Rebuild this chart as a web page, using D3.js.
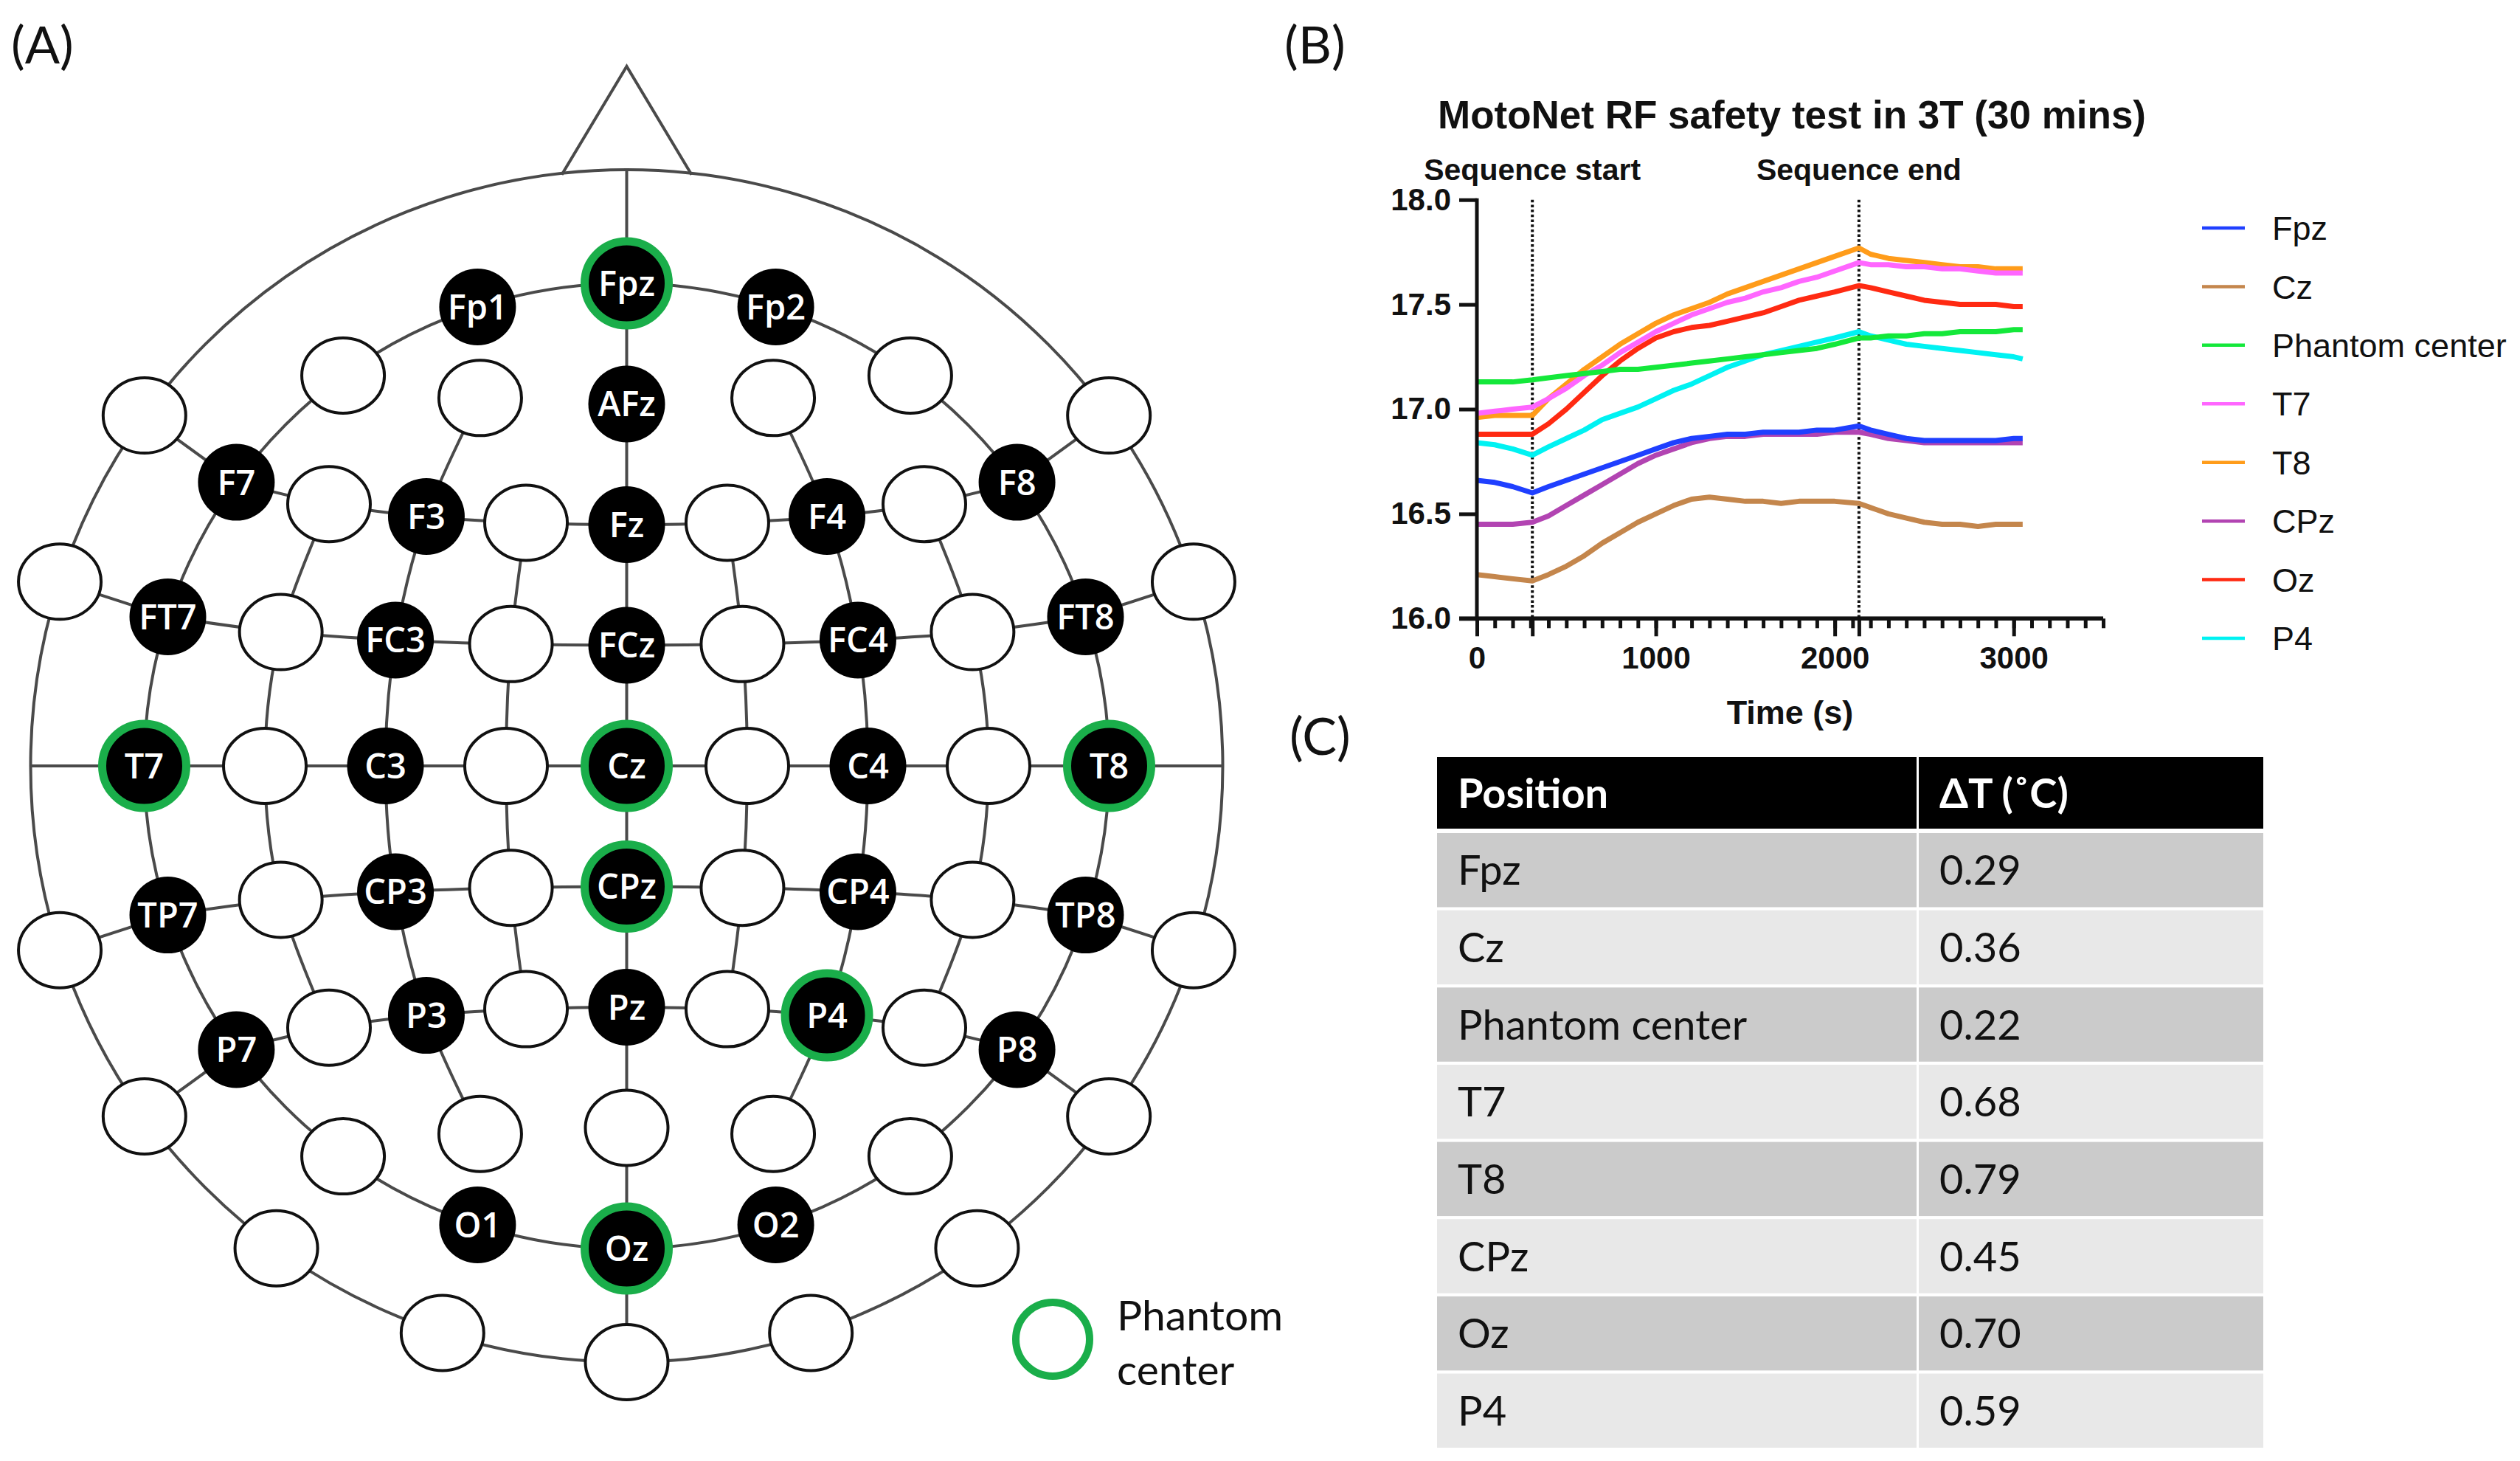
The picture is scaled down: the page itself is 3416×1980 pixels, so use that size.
<!DOCTYPE html>
<html><head><meta charset="utf-8">
<script src="https://cdn.jsdelivr.net/npm/d3@7"></script>
<style>html,body{margin:0;padding:0;background:#fff;} svg{display:block}</style>
</head><body>
<svg id="fig" width="3416" height="1980"></svg>
<script>
// ================= DATA =================
// (A) 10-10 electrode layout, expressed in angles (not pixels)
const gridRows = ['AF','F','FC','C','CP','P','PO'];
const gridRowBeta = [67.5, 45, 22.5, 0, -22.5, -45, -67.5];   // midline latitude (deg, + = frontal)
const gridElectrodes = [ // [name, row, fraction along row (neg = left)]
  ['AF7','AF',-1],['AF3','AF',-0.5],['AFz','AF',0],['AF4','AF',0.5],['AF8','AF',1],
  ['F7','F',-1],['F5','F',-0.75],['F3','F',-0.5],['F1','F',-0.25],['Fz','F',0],['F2','F',0.25],['F4','F',0.5],['F6','F',0.75],['F8','F',1],
  ['FT7','FC',-1],['FC5','FC',-0.75],['FC3','FC',-0.5],['FC1','FC',-0.25],['FCz','FC',0],['FC2','FC',0.25],['FC4','FC',0.5],['FC6','FC',0.75],['FT8','FC',1],
  ['T7','C',-1],['C5','C',-0.75],['C3','C',-0.5],['C1','C',-0.25],['Cz','C',0],['C2','C',0.25],['C4','C',0.5],['C6','C',0.75],['T8','C',1],
  ['TP7','CP',-1],['CP5','CP',-0.75],['CP3','CP',-0.5],['CP1','CP',-0.25],['CPz','CP',0],['CP2','CP',0.25],['CP4','CP',0.5],['CP6','CP',0.75],['TP8','CP',1],
  ['P7','P',-1],['P5','P',-0.75],['P3','P',-0.5],['P1','P',-0.25],['Pz','P',0],['P2','P',0.25],['P4','P',0.5],['P6','P',0.75],['P8','P',1],
  ['PO7','PO',-1],['PO3','PO',-0.5],['POz','PO',0],['PO4','PO',0.5],['PO8','PO',1]
];
const polarElectrodes = [ // [name, polar angle from vertex (deg), azimuth from nasion (deg)]
  ['Fp1',90,-18],['Fpz',90,0],['Fp2',90,18],['O1',90,-162],['Oz',90,180],['O2',90,162],
  ['F9',112.5,-54],['FT9',112.5,-72],['TP9',112.5,-108],['P9',112.5,-126],['PO9',112.5,-144],['O9',112.5,-162],['Iz',112.5,180],
  ['O10',112.5,162],['PO10',112.5,144],['P10',112.5,126],['TP10',112.5,108],['FT10',112.5,72],['F10',112.5,54]
];
const labelledElectrodes = ['Fp1','Fpz','Fp2','AFz','F7','F3','Fz','F4','F8','FT7','FC3','FCz','FC4','FT8',
  'T7','C3','Cz','C4','T8','TP7','CP3','CPz','CP4','TP8','P7','P3','Pz','P4','P8','O1','Oz','O2'];
const phantomSites = ['Fpz','T7','Cz','T8','CPz','P4','Oz'];
const rowLineRows = ['F','FC','CP','P'];
const columnLines = [
  ['F5','FC5','C5','CP5','P5'], ['AF3','F3','FC3','C3','CP3','P3','PO3'], ['F1','FC1','C1','CP1','P1'],
  ['F2','FC2','C2','CP2','P2'], ['AF4','F4','FC4','C4','CP4','P4','PO4'], ['F6','FC6','C6','CP6','P6']
];
const spokes = [['F7','F9'],['FT7','FT9'],['TP7','TP9'],['P7','P9'],['F8','F10'],['FT8','FT10'],['TP8','TP10'],['P8','P10']];
const ringAngles = [90, 112.5];
const legendALabel = ['Phantom', 'center'];

// (B) temperature traces
const timeS = [0,100,200,310,400,500,600,700,800,900,1000,1100,1200,1300,1400,1500,1600,1700,1800,1900,2000,2135,2200,2300,2400,2500,2600,2700,2800,2900,3000,3050];
const tFpz     = [16.66,16.65,16.63,16.60,16.63,16.66,16.69,16.72,16.75,16.78,16.81,16.84,16.86,16.87,16.88,16.88,16.89,16.89,16.89,16.90,16.90,16.92,16.90,16.88,16.86,16.85,16.85,16.85,16.85,16.85,16.86,16.86];
const tCz      = [16.21,16.20,16.19,16.18,16.21,16.25,16.30,16.36,16.41,16.46,16.50,16.54,16.57,16.58,16.57,16.56,16.56,16.55,16.56,16.56,16.56,16.55,16.53,16.50,16.48,16.46,16.45,16.45,16.44,16.45,16.45,16.45];
const tPhantom = [17.13,17.13,17.13,17.14,17.15,17.16,17.17,17.18,17.19,17.19,17.20,17.21,17.22,17.23,17.24,17.25,17.26,17.27,17.28,17.29,17.31,17.34,17.34,17.35,17.35,17.36,17.36,17.37,17.37,17.37,17.38,17.38];
const tT7      = [16.98,16.99,17.00,17.01,17.05,17.10,17.16,17.21,17.27,17.32,17.37,17.41,17.45,17.48,17.51,17.53,17.56,17.58,17.61,17.63,17.66,17.70,17.69,17.69,17.68,17.68,17.67,17.67,17.66,17.65,17.65,17.65];
const tT8      = [16.96,16.97,16.97,16.97,17.05,17.12,17.19,17.25,17.31,17.36,17.41,17.45,17.48,17.51,17.55,17.58,17.61,17.64,17.67,17.70,17.73,17.77,17.74,17.72,17.71,17.70,17.69,17.68,17.68,17.67,17.67,17.67];
const tCPz     = [16.45,16.45,16.45,16.46,16.49,16.54,16.59,16.64,16.69,16.74,16.78,16.81,16.84,16.86,16.87,16.87,16.88,16.88,16.88,16.88,16.89,16.89,16.88,16.86,16.85,16.84,16.84,16.84,16.84,16.84,16.84,16.84];
const tOz      = [16.88,16.88,16.88,16.88,16.93,17.00,17.08,17.16,17.23,17.29,17.34,17.37,17.39,17.40,17.42,17.44,17.46,17.49,17.52,17.54,17.56,17.59,17.58,17.56,17.54,17.52,17.51,17.50,17.50,17.50,17.49,17.49];
const tP4      = [16.84,16.83,16.81,16.78,16.82,16.86,16.90,16.95,16.98,17.01,17.05,17.09,17.12,17.16,17.20,17.23,17.26,17.28,17.30,17.32,17.34,17.37,17.35,17.33,17.31,17.30,17.29,17.28,17.27,17.26,17.25,17.24];
const seriesNames  = ['Fpz','Cz','Phantom center','T7','T8','CPz','Oz','P4'];
const seriesValues = [tFpz, tCz, tPhantom, tT7, tT8, tCPz, tOz, tP4];
const seriesColors = ['#1f3fff','#c4864c','#14e83a','#ff66ff','#ff9c1a','#b244b2','#ff2a12','#00f2f2'];
const yTicks = [16.0, 16.5, 17.0, 17.5, 18.0];
const xMajorTicks = [0, 1000, 2000, 3000];
const xMinorStep = 100;
const xMax = 3500;
const sequenceTimes = [310, 2135];
const sequenceLabels = ['Sequence start', 'Sequence end'];
const chartTitle = 'MotoNet RF safety test in 3T (30 mins)';
const xAxisTitle = 'Time (s)';

// (C) table
const tableHeader = ['Position', 'ΔT (˚C)'];
const tablePositions = ['Fpz','Cz','Phantom center','T7','T8','CPz','Oz','P4'];
const tableDeltaT = ['0.29','0.36','0.22','0.68','0.79','0.45','0.70','0.59'];
const panelLabels = ['(A)','(B)','(C)'];

// ================= DRAW =================
const svg = d3.select('#fig');

// ---- panel labels
const panelPos = [[15,61],[1741,61],[1748,998]];
svg.selectAll('text.panel').data(panelLabels).join('text')
  .attr('class','panel').attr('x',(d,i)=>panelPos[i][0]).attr('y',(d,i)=>panelPos[i][1])
  .attr('dy','0.36em').style('font-family','Lato, "Open Sans", sans-serif').style('font-size','70px')
  .attr('fill','#111').text(d=>d);

// ---- (A) head map
const head = svg.append('g');
const cx = 849.5, cy = 1038;
const rScale = d3.scaleLinear().domain([0, 90, 112.5]).range([0, 654, 808]);
const rad = Math.PI/180;
function project(theta, az) {
  const r = rScale(theta);
  return [cx + r*Math.sin(az*rad), cy - r*Math.cos(az*rad)];
}
function gridPos(beta, f) {
  const b = beta*rad, alpha = (90 - 0.8*beta)*rad;
  const M = [0, Math.sin(b), Math.cos(b)];
  const L = [-Math.sin(alpha), Math.cos(alpha), 0];
  const k = (Math.cos(alpha) - Math.sin(b)) / Math.cos(b);
  const nl = Math.hypot(1, k);
  const n = [0, 1/nl, k/nl];
  const d = Math.cos(alpha)/nl;
  const c = [0, d*n[1], d*n[2]];
  const rho = Math.sqrt(1 - d*d);
  const u = [0, (M[1]-c[1])/rho, (M[2]-c[2])/rho];
  const Lr = [L[0]-c[0], L[1]-c[1], L[2]-c[2]];
  const Phi = Math.acos(Math.max(-1, Math.min(1, (u[1]*Lr[1] + u[2]*Lr[2])/rho)));
  const phi = Math.abs(f)*Phi, s = f < 0 ? -1 : 1;
  const P = [s*rho*Math.sin(phi), c[1] + rho*Math.cos(phi)*u[1], c[2] + rho*Math.cos(phi)*u[2]];
  const theta = Math.acos(Math.max(-1, Math.min(1, P[2])))/rad;
  const az = (Math.abs(P[0]) < 1e-12 && Math.abs(P[1]) < 1e-12) ? 0 : Math.atan2(P[0], P[1])/rad;
  return {theta, az};
}
const electrodes = [];
gridElectrodes.forEach(([name,row,f]) => {
  const g = gridPos(gridRowBeta[gridRows.indexOf(row)], f);
  electrodes.push({name, row, f, theta:g.theta, az:g.az});
});
polarElectrodes.forEach(([name,theta,az]) => electrodes.push({name, row:null, theta, az}));
electrodes.forEach(e => { const p = project(e.theta, e.az); e.x = p[0]; e.y = p[1]; });
const byName = Object.fromEntries(electrodes.map(e => [e.name, e]));

const lineCol = '#4a4a4a', lineW = 4;
const lines = head.append('g').attr('fill','none').attr('stroke',lineCol).attr('stroke-width',lineW);
// nose
const rOut = rScale(112.5), noseHalf = 88;
const noseBaseY = cy - Math.sqrt(rOut*rOut - noseHalf*noseHalf);
lines.append('path').attr('d', d3.line()([[cx-noseHalf, noseBaseY+2],[cx, 90],[cx+noseHalf, noseBaseY+2]]));
// rings
lines.selectAll('circle.ring').data(ringAngles).join('circle').attr('class','ring')
  .attr('cx',cx).attr('cy',cy).attr('r',d=>rScale(d));
// midline + central line
lines.append('line').attr('x1',cx).attr('x2',cx).attr('y1',cy-rOut).attr('y2',cy+rOut);
lines.append('line').attr('x1',cx-rOut).attr('x2',cx+rOut).attr('y1',cy).attr('y2',cy);
// curved rows
const curve = d3.line().x(d=>d.x).y(d=>d.y).curve(d3.curveCatmullRom.alpha(0.5));
rowLineRows.forEach(row => {
  const pts = electrodes.filter(e => e.row === row).sort((a,b)=>a.f-b.f);
  lines.append('path').attr('d', curve(pts));
});
columnLines.forEach(col => lines.append('path').attr('d', curve(col.map(n => byName[n]))));
spokes.forEach(([a,b]) => lines.append('line')
  .attr('x1',byName[a].x).attr('y1',byName[a].y).attr('x2',byName[b].x).attr('y2',byName[b].y));

// electrodes
const green = '#1aae4a';
const eg = head.append('g');
const whites = electrodes.filter(e => !labelledElectrodes.includes(e.name));
const blacks = electrodes.filter(e => labelledElectrodes.includes(e.name));
eg.selectAll('ellipse').data(whites).join('ellipse')
  .attr('cx',d=>d.x).attr('cy',d=>d.y).attr('rx',56).attr('ry',51)
  .attr('fill','#fff').attr('stroke','#111').attr('stroke-width',4);
eg.selectAll('circle.blk').data(blacks).join('circle').attr('class','blk')
  .attr('cx',d=>d.x).attr('cy',d=>d.y)
  .attr('r',d=>phantomSites.includes(d.name) ? 57 : 52)
  .attr('fill','#000')
  .attr('stroke',d=>phantomSites.includes(d.name) ? green : 'none')
  .attr('stroke-width',11);
eg.selectAll('text').data(blacks).join('text')
  .attr('x',d=>d.x).attr('y',d=>d.y).attr('dy','0.36em').attr('text-anchor','middle')
  .attr('fill','#fff').style('font-family','"Open Sans", Lato, sans-serif').style('font-weight','600')
  .style('font-size','47px').text(d=>d.name);

// legend in panel A
head.append('circle').attr('cx',1427).attr('cy',1815).attr('r',50)
  .attr('fill','#fff').attr('stroke',green).attr('stroke-width',10);
head.selectAll('text.lgA').data(legendALabel).join('text').attr('class','lgA')
  .attr('x',1514).attr('y',(d,i)=>1782 + i*74).attr('dy','0.36em')
  .style('font-family','Lato, "Open Sans", sans-serif').style('font-size','57px').attr('fill','#111').text(d=>d);

// ---- (B) chart
const chart = svg.append('g');
const x = d3.scaleLinear().domain([0, xMax]).range([2002, 2851]);
const y = d3.scaleLinear().domain([16, 18]).range([838.3, 270.7]);
const fontB = '"Liberation Sans", Arial, Helvetica, sans-serif';

chart.append('text').attr('x',2429).attr('y',174).attr('text-anchor','middle')
  .style('font-family',fontB).style('font-weight','bold').style('font-size','53px').attr('fill','#111').text(chartTitle);

// sequence dotted lines
chart.selectAll('line.seq').data(sequenceTimes).join('line').attr('class','seq')
  .attr('x1',d=>x(d)).attr('x2',d=>x(d)).attr('y1',y(18)).attr('y2',y(16))
  .attr('stroke','#111').attr('stroke-width',4).attr('stroke-dasharray','3.5 3.2');
chart.selectAll('text.seq').data(sequenceLabels).join('text').attr('class','seq')
  .attr('x',(d,i)=>x(sequenceTimes[i])).attr('y',244).attr('text-anchor','middle')
  .style('font-family',fontB).style('font-weight','bold').style('font-size','41px').attr('fill','#111').text(d=>d);

// traces (first series drawn on top)
const lineGen = d3.line().x((d,i)=>x(timeS[i])).y(d=>y(d));
const order = d3.range(seriesNames.length).reverse();
chart.selectAll('path.trace').data(order).join('path').attr('class','trace')
  .attr('d',i=>lineGen(seriesValues[i])).attr('fill','none')
  .attr('stroke',i=>seriesColors[i]).attr('stroke-width',7).attr('stroke-linejoin','round');

// axes
const axW = 5;
const gx = chart.append('g').attr('transform',`translate(0,${y(16)})`);
gx.append('g').call(d3.axisBottom(x).tickValues(d3.range(0, xMax + 1, xMinorStep)).tickFormat('').tickSize(13).tickSizeOuter(0));
gx.append('g').call(d3.axisBottom(x).tickValues(sequenceTimes).tickFormat('').tickSize(24).tickSizeOuter(0));
gx.append('g').call(d3.axisBottom(x).tickValues(xMajorTicks).tickFormat(d3.format('d')).tickSize(24).tickSizeOuter(0).tickPadding(14));
gx.selectAll('path.domain').attr('d',`M${1978},0H${x(xMax)}`);
gx.selectAll('path,line').attr('stroke','#111').attr('stroke-width',axW);
gx.selectAll('text').style('font-family',fontB).style('font-weight','bold').style('font-size','42px').attr('fill','#111');

const gy = chart.append('g').attr('transform',`translate(${x(0)},0)`);
gy.call(d3.axisLeft(y).tickValues(yTicks).tickFormat(d3.format('.1f')).tickSize(24).tickSizeOuter(0).tickPadding(11));
gy.selectAll('path.domain').attr('d',`M0,${y(18)-2}V${y(16)+2}`);
gy.selectAll('path,line').attr('stroke','#111').attr('stroke-width',axW);
gy.selectAll('text').style('font-family',fontB).style('font-weight','bold').style('font-size','42px').attr('fill','#111');

chart.append('text').attr('x',x(1750)).attr('y',981).attr('text-anchor','middle')
  .style('font-family',fontB).style('font-weight','bold').style('font-size','45px').attr('fill','#111').text(xAxisTitle);

// legend
const legY = d3.scalePoint().domain(seriesNames).range([309, 865]);
const lg = chart.append('g');
lg.selectAll('line').data(seriesNames).join('line')
  .attr('x1',2985).attr('x2',3043).attr('y1',d=>legY(d)).attr('y2',d=>legY(d))
  .attr('stroke',(d,i)=>seriesColors[i]).attr('stroke-width',4.5);
lg.selectAll('text').data(seriesNames).join('text')
  .attr('x',3080).attr('y',d=>legY(d)).attr('dy','0.36em')
  .style('font-family',fontB).style('font-size','45px').attr('fill','#111').text(d=>d);

// ---- (C) table
const tab = svg.append('g');
const colX = [1948, 2601], colW = [650, 467];
const headerY = 1026, headerH = 97;
const rowY = d3.scaleBand().domain(tablePositions).range([1129, 1962]).paddingInner(0.04).paddingOuter(0);
const fontC = 'Lato, "Open Sans", sans-serif';
tab.selectAll('rect.hd').data(tableHeader).join('rect').attr('class','hd')
  .attr('x',(d,i)=>colX[i]).attr('y',headerY).attr('width',(d,i)=>colW[i]).attr('height',headerH).attr('fill','#000');
tab.selectAll('text.hd').data(tableHeader).join('text').attr('class','hd')
  .attr('x',(d,i)=>colX[i]+28).attr('y',headerY+headerH/2).attr('dy','0.36em')
  .style('font-family',fontC).style('font-weight','bold').style('font-size','56px').attr('fill','#fff').text(d=>d);
const rows = tab.selectAll('g.row').data(tablePositions).join('g').attr('class','row');
[0,1].forEach(ci => {
  rows.append('rect').attr('x',colX[ci]).attr('y',d=>rowY(d)).attr('width',colW[ci]).attr('height',rowY.bandwidth())
    .attr('fill',(d,i)=> i%2===0 ? '#cbcbcb' : '#e8e8e8');
  rows.append('text').attr('x',colX[ci]+28).attr('y',d=>rowY(d)+rowY.bandwidth()/2).attr('dy','0.36em')
    .style('font-family',fontC).style('font-size','56px').attr('fill','#111')
    .text((d,i)=> ci===0 ? d : tableDeltaT[i]);
});
</script>
</body></html>
